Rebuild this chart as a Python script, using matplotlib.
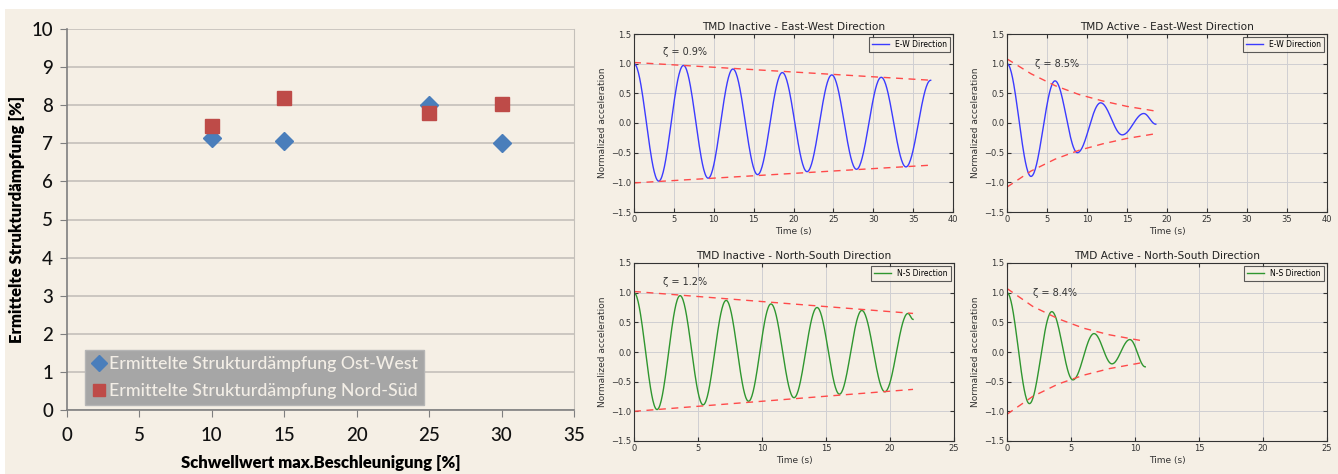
import numpy as np
import matplotlib.pyplot as plt
from matplotlib.patches import Rectangle
from matplotlib.lines import Line2D

# Daten links: Strukturdaempfung ueber Schwellwert
schwellwert = [10, 15, 25, 30]
daempfung_ow = [7.13, 7.05, 8.0, 7.0]
daempfung_ns = [7.45, 8.2, 7.8, 8.03]

ew_inakt_t = [0, 3.1, 6.2, 9.3, 12.4, 15.5, 18.6, 21.7, 24.8, 27.9, 31.0, 34.1, 37.2]
ew_inakt_v = [1.0, -0.98, 0.97, -0.93, 0.91, -0.87, 0.85, -0.82, 0.81, -0.78, 0.77, -0.74, 0.72]
ew_inakt_env_t = [0, 37.3]
ew_inakt_env_o = [1.02, 0.72]
ew_inakt_env_u = [-1.01, -0.71]

ew_akt_t = [0, 3.0, 6.0, 8.8, 11.7, 14.4, 17.1, 18.6]
ew_akt_v = [1.0, -0.9, 0.71, -0.5, 0.34, -0.2, 0.16, -0.02]
ew_akt_env_t = [0, 3, 6, 9, 12, 15, 18.6]
ew_akt_env_o = [1.08, 0.83, 0.63, 0.48, 0.37, 0.28, 0.2]
ew_akt_env_u = [-1.08, -0.81, -0.61, -0.46, -0.35, -0.26, -0.18]

ns_inakt_t = [0, 1.8, 3.6, 5.4, 7.2, 8.95, 10.7, 12.5, 14.3, 16.05, 17.8, 19.6, 21.4, 21.8]
ns_inakt_v = [1.0, -0.97, 0.95, -0.89, 0.87, -0.83, 0.81, -0.77, 0.75, -0.71, 0.70, -0.67, 0.65, 0.55]
ns_inakt_env_t = [0, 21.8]
ns_inakt_env_o = [1.02, 0.65]
ns_inakt_env_u = [-1.0, -0.63]

ns_akt_t = [0, 1.75, 3.5, 5.15, 6.8, 8.2, 9.6, 10.8]
ns_akt_v = [1.0, -0.87, 0.68, -0.47, 0.31, -0.2, 0.21, -0.25]
ns_akt_env_t = [0, 2, 4, 6, 8, 10.8]
ns_akt_env_o = [1.07, 0.77, 0.56, 0.4, 0.29, 0.18]
ns_akt_env_u = [-1.05, -0.75, -0.54, -0.39, -0.28, -0.17]

zeta_txt = ['\u03b6 = 0.9%', '\u03b6 = 8.5%', '\u03b6 = 1.2%', '\u03b6 = 8.4%']

beige = '#f5efe5'
W, H = 1338, 474
schrift = 'Lato'

fig = plt.figure(figsize=(W / 100, H / 100), dpi=100)
fig.patch.set_facecolor('white')
fig.patches.append(Rectangle((5 / W, 0), 1 - 5 / W, 1 - 9 / H, transform=fig.transFigure,
                             facecolor=beige, edgecolor='none', zorder=-10))


def box(l, r, t, b):
    return [l / W, 1 - b / H, (r - l) / W, (b - t) / H]


# --- linker Plot (Excel-Stil) ---
ax = fig.add_axes(box(67, 574, 29, 410))
ax.set_facecolor('none')
ax.set_xlim(0, 35)
ax.set_ylim(0, 10)
ax.set_xticks(range(0, 36, 5))
ax.set_yticks(range(0, 11))
ax.yaxis.grid(True, color='#c4c0ba', lw=1.2)
ax.set_axisbelow(True)
ax.spines['top'].set_visible(False)
ax.spines['right'].set_color('#c4c0ba')
ax.spines['left'].set_color('#7f7f7f')
ax.spines['bottom'].set_color('#7f7f7f')
ax.spines['left'].set_linewidth(1.2)
ax.spines['bottom'].set_linewidth(1.2)
ax.tick_params(direction='out', length=5, color='#7f7f7f', labelsize=13.5, pad=3,
               labelcolor='#111111')
for lab in ax.get_xticklabels() + ax.get_yticklabels():
    lab.set_family(schrift)
    lab.set_fontweight('medium')
ax.tick_params(axis='y', pad=5)
ax.tick_params(axis='x', pad=7)
ax.plot(schwellwert, daempfung_ow, 'D', color='#4a7ebb', ms=9, mec='#4a7ebb', zorder=3)
ax.plot(schwellwert, daempfung_ns, 's', color='#be4b48', ms=9.5, mec='#be4b48', zorder=3)
ax.set_xlabel('Schwellwert max.Beschleunigung [%]', fontsize=12, fontweight='heavy',
              family=schrift, labelpad=8)
ax.set_ylabel('Ermittelte Strukturdämpfung [%]', fontsize=12, fontweight='heavy',
              family=schrift, labelpad=5)
hnd = [Line2D([], [], ls='none', marker='D', color='#4a7ebb', ms=8),
       Line2D([], [], ls='none', marker='s', color='#be4b48', ms=9)]
leg = ax.legend(hnd, ['Ermittelte Strukturdämpfung Ost-West', 'Ermittelte Strukturdämpfung Nord-Süd'],
                loc='lower left', bbox_to_anchor=(0.024, 0.0), frameon=True, fancybox=False,
                handletextpad=0.1, handlelength=1.0, borderpad=0.3, labelspacing=0.65,
                prop={'family': schrift, 'size': 12.8, 'weight': 'medium'}, borderaxespad=0.3)
leg.get_frame().set_facecolor('#a6a6a6')
leg.get_frame().set_edgecolor('#b5b5b5')
leg.get_frame().set_alpha(1)
for t in leg.get_texts():
    t.set_color('#f3eee6')


# --- rechte Plots ---
def kurve(tt, vv):
    xs, ys = [], []
    for i in range(len(tt) - 1):
        s = np.linspace(0, 1, 40)
        xs.append(tt[i] + (tt[i + 1] - tt[i]) * s)
        ys.append(vv[i] + (vv[i + 1] - vv[i]) * (1 - np.cos(np.pi * s)) / 2)
    return np.concatenate(xs), np.concatenate(ys)


panels = [
    (box(634, 953, 34, 212), 'TMD Inactive - East-West Direction', ew_inakt_t, ew_inakt_v,
     ew_inakt_env_t, ew_inakt_env_o, ew_inakt_env_u, '#3b3bff', 'E-W Direction', 40, (3.6, 1.2)),
    (box(1007, 1327, 34, 212), 'TMD Active - East-West Direction', ew_akt_t, ew_akt_v,
     ew_akt_env_t, ew_akt_env_o, ew_akt_env_u, '#3b3bff', 'E-W Direction', 40, (3.5, 0.99)),
    (box(634, 954, 263, 441), 'TMD Inactive - North-South Direction', ns_inakt_t, ns_inakt_v,
     ns_inakt_env_t, ns_inakt_env_o, ns_inakt_env_u, '#2f962f', 'N-S Direction', 25, (2.3, 1.18)),
    (box(1007, 1327, 263, 441), 'TMD Active - North-South Direction', ns_akt_t, ns_akt_v,
     ns_akt_env_t, ns_akt_env_o, ns_akt_env_u, '#2f962f', 'N-S Direction', 25, (2.0, 0.99)),
]

for k, (pos, titel, tt, vv, et, eo, eu, farbe, lab, xmax, zpos) in enumerate(panels):
    a = fig.add_axes(pos)
    a.set_facecolor('none')
    x, y = kurve(tt, vv)
    a.plot(x, y, color=farbe, lw=1.0, label=lab)
    a.plot(et, eo, '--', color='#ff4a4a', lw=1.0, dashes=(5, 4))
    a.plot(et, eu, '--', color='#ff4a4a', lw=1.0, dashes=(5, 4))
    a.set_xlim(0, xmax)
    a.set_ylim(-1.5, 1.5)
    a.set_yticks(np.arange(-1.5, 1.51, 0.5))
    a.set_yticklabels(['\u22121.5', '\u22121.0', '\u22120.5', '0.0', '0.5', '1.0', '1.5'])
    a.grid(True, color='#cfcfd2', lw=0.7)
    a.set_axisbelow(True)
    a.tick_params(direction='in', length=3, labelsize=6, colors='#333333', pad=2,
                  top=True, right=True)
    for s in a.spines.values():
        s.set_color('#333333')
        s.set_linewidth(0.8)
    a.set_title(titel, fontsize=7.6, color='#222222', pad=3)
    a.set_xlabel('Time (s)', fontsize=6.5, color='#333333', labelpad=2)
    a.set_ylabel('Normalized acceleration', fontsize=6.5, color='#333333', labelpad=3)
    a.text(zpos[0], zpos[1], zeta_txt[k], fontsize=7, color='#333333', va='center')
    lg = a.legend(loc='upper right', fontsize=5.5, fancybox=False, handlelength=2.2,
                  borderpad=0.4, borderaxespad=0.4)
    lg.get_frame().set_edgecolor('#333333')
    lg.get_frame().set_facecolor(beige)
    lg.get_frame().set_linewidth(0.8)

fig.savefig('out.png', dpi=100, facecolor=fig.get_facecolor())
